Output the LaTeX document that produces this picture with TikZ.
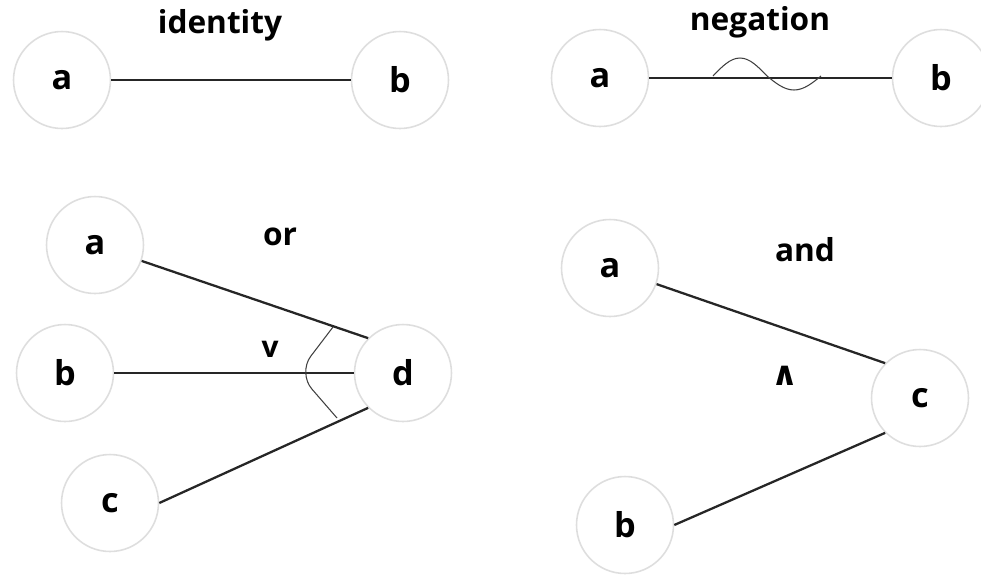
\documentclass[tikz,border=0pt]{standalone}
\usepackage{fontspec}
\setmainfont{Open Sans}
\newfontfamily\symfont{DejaVu Sans}
\usepackage{tikz}
\usetikzlibrary{calc}

\begin{document}
\begin{tikzpicture}[x=0.02cm, y=-0.02cm,
    var/.style={circle, draw=black!13, line width=0.9pt, fill=white, minimum size=1.94cm, inner sep=0pt, font=\fontsize{19.5}{21}\selectfont\bfseries},
    title/.style={font=\fontsize{18}{20}\selectfont\bfseries},
    op/.style={font=\fontsize{17}{19}\selectfont\bfseries},
    link/.style={black!85, line width=1.3pt},
    thinmark/.style={black!75, line width=0.6pt}]
          \useasboundingbox (0,0) rectangle (981,576);

          % identity
          \node [title] (tid) at (220,25) {identity};
          \node [var] (ida) at (62,80) {a};
          \node [var] (idb) at (400,80) {b};
          \draw [link] (ida) -- (idb);

          % negation
          \node [title] (tneg) at (760,22) {negation};
          \node [var] (nga) at (600,78) {a};
          \node [var] (ngb) at (941,78) {b};
          \draw [link] (nga) -- (ngb);
          \coordinate (ngw) at (713,76);
          \draw [thinmark] (ngw) sin ++(27,-18) cos ++(27,18) sin ++(27,14) cos ++(27,-14); % Draws the wave

          % or
          \node [title] (tor) at (280,237) {or};
          \node [var] (ora) at (95,245) {a};
          \node [var] (orb) at (65,373) {b};
          \node [var] (orc) at (110,503) {c};
          \node [var] (ord) at (403,373) {d};
          \draw [link] (ora) -- (ord.135);
          \draw [link] (orb) -- (ord);
          \draw [link] (orc.east) -- (ord.225);
          \draw [thinmark, rounded corners=12pt] (333,327) -- (298,373) -- (337,418); % Draws the arc
          \node [op] (orv) at (270,349) {v};

          % and
          \node [title] (tand) at (805,250) {and};
          \node [var] (ana) at (610,268) {a};
          \node [var] (anb) at (625,525) {b};
          \node [var] (anc) at (920,398) {c};
          \draw [link] (ana) -- (anc.135);
          \draw [link] (anb.east) -- (anc.225);
          \node [op, font=\symfont\fontsize{19}{21}\selectfont\bfseries] (anw) at (785,376) {∧};
        \end{tikzpicture}
\end{document}
